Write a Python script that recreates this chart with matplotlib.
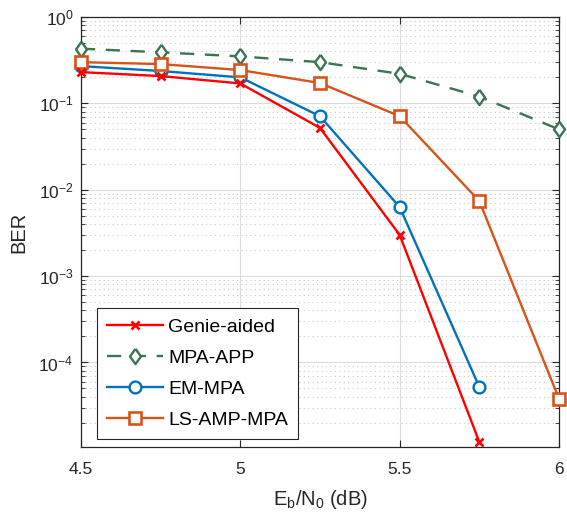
import numpy as np
import matplotlib
matplotlib.use('Agg')
import matplotlib.pyplot as plt
from matplotlib.ticker import LogLocator, NullFormatter, FixedLocator

plt.rcParams['font.family'] = ['Liberation Sans', 'DejaVu Sans']
plt.rcParams['mathtext.fontset'] = 'custom'
plt.rcParams['mathtext.rm'] = 'Liberation Sans'
plt.rcParams['mathtext.it'] = 'Liberation Sans'

# Eb/N0 (dB)
snr = [4.5, 4.75, 5.0, 5.25, 5.5, 5.75, 6.0]

ber_genie = [0.23, 0.207, 0.17, 0.052, 0.003, 1.2e-5]
ber_app = [0.43, 0.39, 0.35, 0.30, 0.22, 0.12, 0.05]
ber_em = [0.27, 0.237, 0.20, 0.071, 0.0063, 5.2e-5]
ber_ls = [0.30, 0.285, 0.243, 0.172, 0.071, 0.0074, 3.8e-5]

labels = ['Genie-aided', 'MPA-APP', 'EM-MPA', 'LS-AMP-MPA']

dark = '#262626'
diamond = [(0, 1), (0.72, 0), (0, -1), (-0.72, 0), (0, 1)]

fig = plt.figure(figsize=(5.67, 5.12), dpi=100)
ax = fig.add_axes([81/567, 65/512, 478/567, 430/512])

ax.semilogy(snr[:6], ber_genie, '-x', color='#ff0000', lw=1.7, ms=6, mew=1.9,
            label=labels[0], clip_on=False, zorder=5)
ax.semilogy(snr, ber_app, '--', marker=diamond, color='#3c7452', lw=1.7, ms=11,
            mew=1.7, mfc='white', dashes=(6, 4.5), label=labels[1], clip_on=False,
            zorder=4)
ax.semilogy(snr[:6], ber_em, '-o', color='#0072bd', lw=1.7, ms=8.5, mew=1.7,
            mfc='white', label=labels[2], clip_on=False, zorder=4)
ax.semilogy(snr, ber_ls, '-s', color='#d95319', lw=1.7, ms=9, mew=1.9,
            mfc='white', label=labels[3], clip_on=False, zorder=4)

ax.set_xlim(4.5, 6)
ax.set_ylim(1.05e-5, 1)
ax.xaxis.set_major_locator(FixedLocator([4.5, 5, 5.5, 6]))
ax.set_xticklabels(['4.5', '5', '5.5', '6'])
ax.yaxis.set_major_locator(LogLocator(base=10, numticks=10))
ax.yaxis.set_minor_locator(LogLocator(base=10, subs=np.arange(2, 10), numticks=10))
ax.yaxis.set_minor_formatter(NullFormatter())

ax.grid(True, which='major', color='#dcdcdc', lw=0.8, ls='-')
ax.grid(True, which='minor', axis='y', color='#c8c8c8', lw=0.8, ls=(0, (1, 3)))
ax.set_axisbelow(True)

ax.tick_params(which='both', direction='in', top=True, right=True, colors=dark,
               labelsize=12.5)
ax.tick_params(axis='x', which='major', pad=11)
ax.tick_params(axis='y', which='major', pad=5.5)
ax.tick_params(which='major', length=5, width=0.8)
ax.tick_params(which='minor', length=3, width=0.6)
for s in ax.spines.values():
    s.set_color(dark)
    s.set_linewidth(0.9)

ax.set_xlabel('E$_\\mathregular{b}$/N$_\\mathregular{0}$ (dB)', fontsize=14.5, color=dark,
              labelpad=8)
ax.set_ylabel('BER', fontsize=14.5, color=dark, labelpad=7)

leg = ax.legend(loc='lower left', bbox_to_anchor=(0.022, 0.005), fontsize=14,
                fancybox=False, framealpha=1, edgecolor=dark, handlelength=2.9,
                labelspacing=0.7, borderpad=0.5, handletextpad=0.25,
                borderaxespad=0.3)
leg.get_frame().set_linewidth(0.8)

fig.savefig('out.png', dpi=100)
